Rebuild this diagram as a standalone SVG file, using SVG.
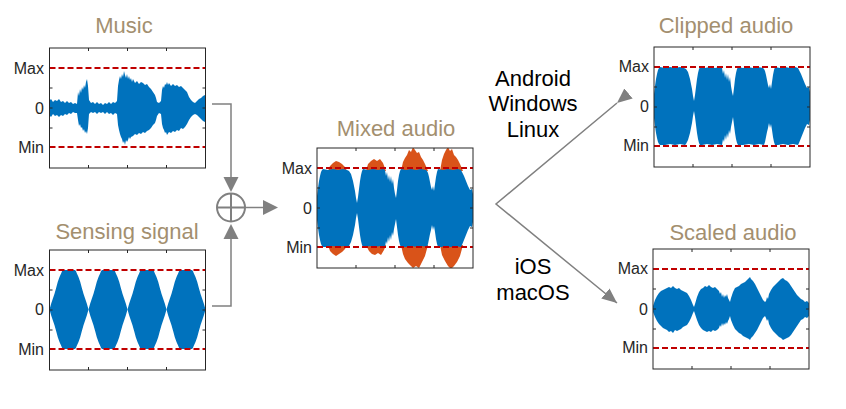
<svg xmlns="http://www.w3.org/2000/svg" xmlns:xlink="http://www.w3.org/1999/xlink" width="846" height="409" viewBox="0 0 846 409">
<style>
.title{font-family:"Liberation Sans",Arial,sans-serif;font-size:22px;fill:#a38f6f;text-anchor:middle}
.tick{font-family:"Liberation Sans",Arial,sans-serif;font-size:16px;fill:#262626;text-anchor:end}
.os{font-family:"Liberation Sans",Arial,sans-serif;font-size:22px;fill:#000;text-anchor:middle}
.frame{fill:none;stroke:#262626;stroke-width:1}
.lim{fill:none;stroke:#c00000;stroke-width:2;stroke-dasharray:6 3}
.wave{fill:#0072bd}
.over{fill:#d95319}
.conn{fill:none;stroke:#808080;stroke-width:1.5}
.head{fill:#808080}
</style>
<defs>
<marker id="arr" markerUnits="userSpaceOnUse" markerWidth="16" markerHeight="14" refX="15" refY="6.5" orient="auto">
<path class="head" d="M0,0 L15,6.5 L0,13 Z"/>
</marker>
<g id="axes">
<path class="lim" d="M0,20H156M0,99H156"/>
<rect class="frame" x="0" y="0" width="156" height="120"/>
<path class="frame" d="M39,0v3M78,0v3M117,0v3M39,120v-3M78,120v-3M117,120v-3M0,40h3M0,60h3M0,80h3M156,40h-3M156,60h-3M156,80h-3"/>
</g>
<path id="lobe" class="wave" d="M0,0 L1.7,-5.9 L3.3,-10.7 L5,-15.8 L6.7,-21.7 L8.3,-27.7 L10,-32.4 L11.7,-36.3 L12.5,-38.3 L13.5,-39.5 L25.5,-39.5 L26.5,-38.3 L27.3,-36.3 L29,-32.4 L30.7,-27.7 L32.3,-21.7 L34,-15.8 L35.7,-10.7 L37.3,-5.9 L39,0 L37.3,5.9 L35.7,10.7 L34,15.8 L32.3,21.7 L30.7,27.7 L29,32.4 L27.3,36.3 L26.5,38.3 L25.5,39.5 L13.5,39.5 L12.5,38.3 L11.7,36.3 L10,32.4 L8.3,27.7 L6.7,21.7 L5,15.8 L3.3,10.7 L1.7,5.9 Z"/>
<path id="mixblue" class="wave" d="M317,196 L318,188 L319,181 L320,176 L321,172 L322,170 L323,169 L328,170 L333,169 L338,170 L343,169 L347,170 L349,171 L351,174 L353,181 L355,191 L356,198 L357,203 L358,197 L359,189 L360,181 L361,175 L362,171 L363,169 L368,170 L373,169 L378,170 L383,169 L385,170 L386,176 L387,172 L388,180 L389,175 L390,182 L391,176 L392,184 L393,179 L394,188 L395,194 L396,198 L397,190 L398,181 L399,175 L400,171 L401,169 L406,170 L411,169 L416,170 L421,169 L426,170 L427,171 L428,173 L429,177 L430,182 L431,187 L432,190 L433,186 L434,191 L435,184 L436,177 L437,172 L438,169 L443,170 L448,169 L453,170 L458,169 L461,170 L462,172 L464,176 L466,181 L468,186 L470,190 L472,189 L473,194 L473,222 L472,227 L470,226 L468,230 L466,235 L464,240 L462,245 L461,247 L456,246 L451,247 L446,246 L441,247 L438,247 L437,244 L436,239 L435,232 L434,226 L433,230 L432,225 L431,230 L430,234 L429,239 L428,244 L427,247 L422,246 L417,247 L412,246 L406,247 L401,247 L400,245 L399,241 L398,235 L397,227 L396,219 L395,224 L394,229 L393,236 L392,232 L391,240 L390,235 L389,242 L388,237 L387,244 L386,241 L385,247 L380,246 L375,247 L370,246 L365,247 L363,247 L362,245 L361,241 L360,235 L359,227 L358,219 L357,213 L356,218 L355,225 L353,235 L351,242 L349,246 L348,247 L343,246 L338,247 L333,246 L328,247 L323,247 L322,246 L321,244 L320,240 L319,235 L318,228 L317,220 Z"/>
<clipPath id="cMusic" clipPathUnits="userSpaceOnUse"><rect x="49.5" y="48" width="156" height="120"/></clipPath>
<clipPath id="cSense" clipPathUnits="userSpaceOnUse"><rect x="49.5" y="250" width="156" height="120"/></clipPath>
<clipPath id="cMix" clipPathUnits="userSpaceOnUse"><rect x="317" y="148" width="156" height="120"/></clipPath>
<clipPath id="cClip" clipPathUnits="userSpaceOnUse"><rect x="654" y="47" width="156" height="120"/></clipPath>
<clipPath id="cScale" clipPathUnits="userSpaceOnUse"><rect x="653" y="249" width="156" height="120"/></clipPath>
</defs>
<rect width="846" height="409" fill="#fff"/>

<g id="music">
<text class="title" x="124" y="33">Music</text>
<g clip-path="url(#cMusic)">
<path class="wave" d="M49,101 L51,99 L53,102 L55,100 L57,101 L59,99 L61,102 L63,101 L65,103 L67,101 L69,103 L71,102 L73,104 L75,103 L77,104 L78,92 L79,96 L80,89 L81,93 L82,87 L83,90 L84,85 L85,88 L86,82 L87,79 L88,86 L89,100 L91,103 L93,102 L95,104 L97,102 L99,104 L101,103 L103,105 L105,103 L107,104 L109,102 L111,104 L113,102 L115,103 L117,101 L118,86 L119,80 L120,76 L121,79 L122,74 L123,77 L124,71 L125,75 L126,78 L127,74 L128,79 L129,76 L130,80 L131,78 L132,82 L133,79 L135,83 L137,81 L139,84 L141,82 L143,83 L145,85 L147,84 L149,87 L151,89 L153,92 L155,95 L156,98 L157,102 L159,103 L161,101 L162,90 L163,86 L164,88 L165,84 L166,85 L167,82 L168,85 L169,83 L171,86 L173,84 L175,86 L177,85 L179,87 L181,86 L183,88 L185,90 L187,92 L189,97 L191,100 L193,102 L195,103 L197,101 L199,99 L201,98 L203,96 L205,95 L206,96 L206,120 L205,122 L203,121 L201,119 L199,117 L197,115 L195,114 L193,115 L191,117 L189,120 L187,124 L185,127 L183,129 L181,128 L179,131 L177,130 L175,132 L173,131 L171,133 L169,132 L167,135 L166,132 L165,133 L164,130 L163,128 L162,124 L161,114 L159,113 L157,116 L156,120 L155,123 L153,125 L151,128 L149,130 L147,131 L145,133 L143,132 L141,134 L139,133 L137,135 L135,134 L133,136 L131,137 L130,139 L129,137 L128,140 L127,142 L126,140 L125,145 L124,141 L123,143 L122,139 L121,137 L120,134 L119,130 L118,125 L117,114 L115,113 L113,115 L111,113 L109,114 L107,112 L105,114 L103,112 L101,113 L99,112 L97,114 L95,112 L93,113 L91,112 L89,114 L88,128 L87,134 L86,131 L85,133 L84,129 L83,131 L82,127 L81,128 L80,124 L79,126 L78,120 L77,113 L75,113 L73,112 L71,114 L69,113 L67,115 L65,114 L63,116 L61,115 L59,117 L57,115 L55,116 L53,114 L51,117 L49,115 Z"/>
</g>
<use xlink:href="#axes" href="#axes" x="49.5" y="48"/>
<text class="tick" x="44" y="74">Max</text>
<text class="tick" x="44" y="114">0</text>
<text class="tick" x="44" y="153">Min</text>
</g>

<g id="sensing">
<text class="title" x="127" y="239">Sensing signal</text>
<g clip-path="url(#cSense)">
<use xlink:href="#lobe" href="#lobe" x="49.5" y="309.5"/>
<use xlink:href="#lobe" href="#lobe" x="88.5" y="309.5"/>
<use xlink:href="#lobe" href="#lobe" x="127.5" y="309.5"/>
<use xlink:href="#lobe" href="#lobe" x="166.5" y="309.5"/>
</g>
<use xlink:href="#axes" href="#axes" x="49.5" y="250"/>
<text class="tick" x="44" y="276">Max</text>
<text class="tick" x="44" y="315">0</text>
<text class="tick" x="44" y="355">Min</text>
</g>

<g id="mixed">
<text class="title" x="396" y="136">Mixed audio</text>
<g clip-path="url(#cMix)">
<path class="over" d="M328,171 L330,166 L333,163 L336,161 L339,162 L342,164 L345,167 L347,171 Z M366,171 L368,164 L371,161 L374,159 L377,161 L380,159 L383,163 L386,171 Z M401,171 L403,162 L405,158 L407,155 L409,150 L411,152 L413,147 L415,150 L417,153 L419,152 L421,157 L423,160 L425,164 L428,171 Z M440,171 L442,160 L444,154 L446,150 L448,147 L450,151 L452,149 L454,155 L456,157 L458,160 L460,164 L463,171 Z M328,245 L330,251 L333,254 L336,256 L339,254 L342,252 L345,249 L347,245 Z M366,245 L369,251 L372,254 L375,255 L378,253 L381,255 L384,250 L386,245 Z M401,245 L403,254 L405,259 L408,263 L411,266 L413,268 L416,266 L419,268 L422,262 L425,256 L428,245 Z M440,245 L442,255 L445,261 L448,266 L451,269 L454,266 L457,262 L460,256 L463,245 Z"/>
<use xlink:href="#mixblue" href="#mixblue"/>
</g>
<use xlink:href="#axes" href="#axes" x="317" y="148"/>
<text class="tick" x="312" y="174">Max</text>
<text class="tick" x="312" y="214">0</text>
<text class="tick" x="312" y="253">Min</text>
</g>

<g id="clipped">
<text class="title" x="726" y="33">Clipped audio</text>
<g clip-path="url(#cClip)">
<use xlink:href="#mixblue" href="#mixblue" transform="translate(337,-102)"/>
</g>
<use xlink:href="#axes" href="#axes" x="654" y="47"/>
<text class="tick" x="649" y="72">Max</text>
<text class="tick" x="649" y="112">0</text>
<text class="tick" x="649" y="151">Min</text>
</g>

<g id="scaled">
<text class="title" x="733" y="240">Scaled audio</text>
<g clip-path="url(#cScale)">
<path class="wave" d="M653,306 L655,300 L657,296 L659,293 L661,291 L663,290 L665,289 L667,288 L669,287 L671,288 L673,286 L675,288 L677,289 L679,288 L681,290 L683,291 L685,292 L687,293 L689,296 L691,300 L693,305 L694,307 L695,304 L697,297 L699,292 L701,289 L703,288 L705,286 L707,287 L709,285 L711,287 L713,288 L715,287 L717,289 L719,291 L720,294 L721,292 L722,297 L723,294 L724,298 L725,295 L726,297 L727,294 L728,298 L729,300 L730,302 L731,298 L733,292 L735,288 L737,287 L739,286 L741,284 L743,283 L745,282 L747,280 L749,278 L750,277 L751,279 L753,281 L755,284 L757,288 L759,292 L761,296 L763,300 L765,302 L766,301 L767,297 L768,299 L769,294 L771,290 L773,287 L775,285 L777,283 L779,281 L781,279 L783,278 L785,280 L787,281 L789,283 L791,286 L793,289 L795,292 L797,295 L799,297 L801,299 L803,300 L805,302 L807,301 L809,303 L809,316 L807,318 L805,317 L803,319 L801,320 L799,323 L797,326 L795,329 L793,332 L791,335 L789,337 L787,338 L785,339 L783,340 L781,338 L779,337 L777,335 L775,333 L773,331 L771,328 L769,324 L768,319 L767,321 L766,318 L765,316 L763,318 L761,322 L759,326 L757,330 L755,333 L753,336 L751,338 L750,340 L749,339 L747,338 L745,337 L743,336 L741,334 L739,333 L737,331 L735,329 L733,325 L731,320 L730,316 L729,319 L728,321 L727,324 L726,322 L725,325 L724,323 L723,326 L722,323 L721,327 L720,325 L719,328 L717,330 L715,331 L713,330 L711,332 L709,331 L707,332 L705,331 L703,330 L701,328 L699,325 L697,320 L695,314 L694,311 L693,313 L691,318 L689,322 L687,325 L685,326 L683,327 L681,329 L679,330 L677,331 L675,330 L673,333 L671,331 L669,332 L667,330 L665,329 L663,328 L661,326 L659,324 L657,321 L655,317 L653,312 Z"/>
</g>
<use xlink:href="#axes" href="#axes" x="653" y="249"/>
<text class="tick" x="648" y="274">Max</text>
<text class="tick" x="648" y="315">0</text>
<text class="tick" x="648" y="353">Min</text>
</g>

<g id="sum">
<circle cx="231" cy="207.5" r="14" fill="none" stroke="#808080" stroke-width="2"/>
<path d="M217,207.5H245M231,193.5V221.5" fill="none" stroke="#808080" stroke-width="2"/>
</g>

<g id="os-labels">
<text class="os" x="533" y="86">Android</text>
<text class="os" x="533" y="111">Windows</text>
<text class="os" x="533" y="137">Linux</text>
<text class="os" x="533" y="274">iOS</text>
<text class="os" x="533" y="300">macOS</text>
</g>

<g id="connectors">
<path class="conn" d="M212,104H231V178"/>
<path class="head" d="M223.5,177 L238.5,177 L231,192 Z"/>
<path class="conn" d="M212,306H231V238"/>
<path class="head" d="M223.5,239 L238.5,239 L231,224 Z"/>
<path class="conn" d="M245,207.5H264"/>
<path class="head" d="M263,200 L263,215 L278,207.5 Z"/>
<path class="conn" stroke-width="1.3" d="M617,103 L496,204 L617,303" marker-start="url(#arr)" marker-end="url(#arr)"/>
</g>
</svg>
